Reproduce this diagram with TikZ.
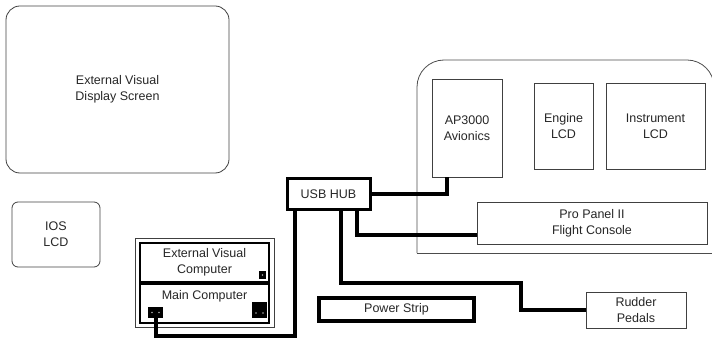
\documentclass[tikz,border=0pt]{standalone}
\usepackage{fontspec}
\setmainfont{Liberation Sans}
\usetikzlibrary{positioning,calc}

\begin{document}
\begin{tikzpicture}[x=1pt,y=-1pt,
  box/.style={draw=black!75, line width=0.8pt, inner sep=0pt, outer sep=0pt,
              font=\fontsize{12.5}{16}\selectfont, text=black!85, align=center},
  rbox/.style={box, rounded corners=#1},
  rbox/.default=6pt,
  pcbox/.style={box, draw=black, line width=2pt},
  hub/.style={box, draw=black, line width=3pt},
  port/.style={fill=black, inner sep=0pt, outer sep=0pt},
  cable/.style={line width=4pt, black}
]
\useasboundingbox (0,0) rectangle (712,339);
\draw[black!70, line width=0.8pt, rounded corners=27pt]
  (417,253) -- (417,60) -- (714,60) -- (714,260);
\draw[black!70, line width=0.8pt] (417,253) -- (714,253);
\node[rbox=14pt, minimum width=223pt, minimum height=167pt] (EVD) at (117.5,89.5) {External Visual\\Display Screen};
\node[rbox, minimum width=88pt, minimum height=65pt] (IOS) at (56,234.5) {IOS\\LCD};
\node[box, minimum width=139pt, minimum height=89pt] (PC) at (204.5,282.5) {};
\node[pcbox, minimum width=129pt, minimum height=39pt] (EVC) at (204.5,262.5) {External Visual\\Computer};
\node[pcbox, minimum width=129pt, minimum height=39pt, text depth=18pt] (MC) at (204.5,303.5) {Main Computer};
\node[port, minimum width=7pt, minimum height=8pt] (EP) at (262.5,275) {};
\node[port, minimum width=15pt, minimum height=11pt] (MP) at (155.5,312.5) {};
\node[port, minimum width=15pt, minimum height=16pt] (AP) at (259.5,310) {};
\foreach \p/\dx/\dy in {EP/0/0, MP/-3.5/0, MP/3.5/0, AP/-3.5/-3, AP/3.5/-3}
  \fill[black!35] ([xshift=\dx pt, yshift=\dy pt]\p.center) circle (0.8pt);
\node[hub, minimum width=83pt, minimum height=31pt] (USB) at (328.5,194.5) {USB HUB};
\node[hub, line width=4pt, minimum width=155pt, minimum height=23pt] (PS) at (396.5,309.5) {Power Strip};
\node[box, minimum width=100pt, minimum height=36pt] (RP) at (636,310) {Rudder\\Pedals};
\node[box, minimum width=70pt, minimum height=98pt] (AV) at (467,128) {AP3000\\Avionics};
\node[box, minimum width=59pt, minimum height=86pt] (ENG) at (563.5,126) {Engine\\LCD};
\node[box, minimum width=99pt, minimum height=86pt] (INS) at (655.5,126) {Instrument\\LCD};
\node[box, minimum width=230pt, minimum height=42pt] (PP) at (592,223) {Pro Panel II\\Flight Console};
\coordinate (JR) at (521,283);
\draw[cable] (MP.south) -- ++(0,18) -| ([xshift=8pt]USB.south west);
\draw[cable] ([xshift=54pt]USB.south west) |- (JR) |- (RP.west);
\draw[cable] ([xshift=70pt]USB.south west) |- ([yshift=-12pt]PP.west);
\draw[cable] (USB.east) -| ([xshift=-20pt]AV.south);
\end{tikzpicture}
\end{document}
